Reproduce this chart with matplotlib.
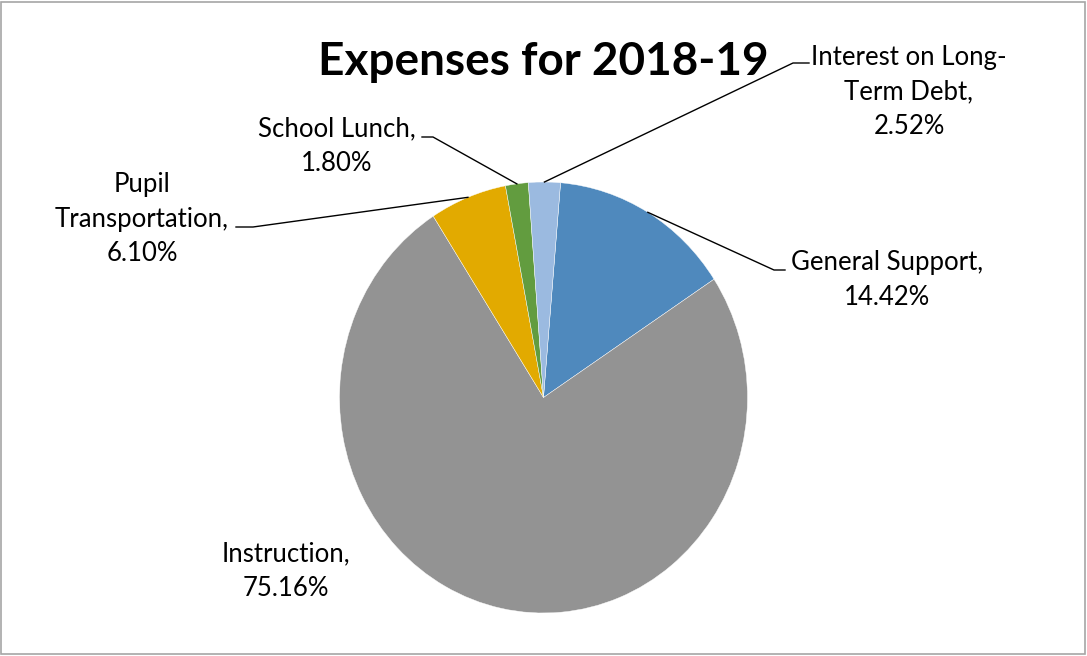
import numpy as np
import matplotlib
matplotlib.use("Agg")
import matplotlib.pyplot as plt
from matplotlib.lines import Line2D
from matplotlib.patches import Rectangle

categories = ["General Support", "Instruction", "Pupil Transportation", "School Lunch",
              "Interest on Long-Term Debt"]
values = [14.42, 75.16, 6.10, 1.80, 2.52]
label_texts = ["General Support,\n14.42%", "Instruction,\n75.16%",
               "Pupil\nTransportation,\n6.10%", "School Lunch,\n1.80%",
               "Interest on Long-\nTerm Debt,\n2.52%"]
colors = ["#4F89BD", "#939393", "#E2AA00", "#629C3F", "#9BBAE0"]
title = "Expenses for 2018-19"

W, H = 1087, 656
plt.rcParams['font.family'] = ['Lato', 'DejaVu Sans']
fig = plt.figure(figsize=(W / 100, H / 100), dpi=100)

def fp(x, y):
    return (x / W, 1 - y / H)

# pie axes (ellipse slightly taller than wide, as in reference)
cx, cy, rx, ry = 543.5, 397.5, 204, 215.5
ax = fig.add_axes([(cx - rx) / W, (H - cy - ry) / H, 2 * rx / W, 2 * ry / H])
startangle = 85.2
wedges, _ = ax.pie(values, colors=colors, startangle=startangle, counterclock=False,
                   wedgeprops=dict(edgecolor="white", linewidth=0.3))
ax.set_aspect('auto')
ax.set_xlim(-1, 1)
ax.set_ylim(-1, 1)
ax.axis('off')

# border
fig.patches.append(Rectangle((1 / W, 2 / H), (W - 3) / W, (H - 4) / H, transform=fig.transFigure,
                             fill=False, edgecolor="#A6A6A6", linewidth=1.2))

fig.text(*fp(543, 62), title, ha="center", va="center", fontsize=33, fontweight="bold")

# label positions (pixel centres) and leader line corner/end points
label_pos = [(887, 280), (286, 571), (142, 219), (337, 146), (909, 92)]
leaders = [((774, 270), (785, 270)), None, ((253, 227), (236, 227)),
           ((433, 137), (422, 137)), ((793, 63), (809, 63))]

inv = fig.transFigure.inverted()
total = sum(values)
ang = startangle
for i, v in enumerate(values):
    span = 360 * v / total
    mid = np.deg2rad(ang - span / 2)
    ang -= span
    fig.text(*fp(*label_pos[i]), label_texts[i], ha="center", va="center",
             fontsize=18.5, linespacing=1.47, color="black")
    if leaders[i] is not None:
        px, py = ax.transData.transform((np.cos(mid), np.sin(mid)))
        p0 = inv.transform((px, py))
        p1 = fp(*leaders[i][0])
        p2 = fp(*leaders[i][1])
        fig.lines.append(Line2D([p0[0], p1[0], p2[0]], [p0[1], p1[1], p2[1]],
                                transform=fig.transFigure, color="black", linewidth=1.0))

fig.savefig("out.png", dpi=100, facecolor="white")
